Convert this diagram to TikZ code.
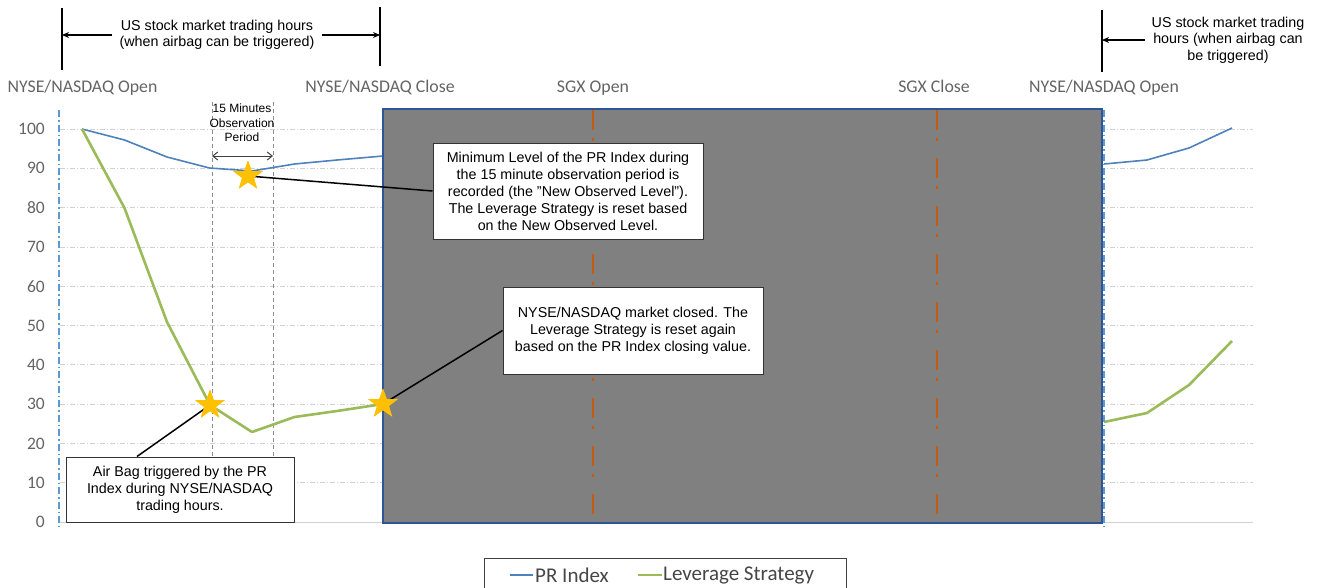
\documentclass[tikz,border=0pt]{standalone}
\usepackage{fontspec}
\setmainfont{Liberation Sans}
\newfontfamily\calibfont{Carlito}
\usetikzlibrary{shapes.geometric,arrows.meta}
\definecolor{prblue}{RGB}{79,129,189}
\definecolor{levgreen}{RGB}{155,187,89}
\definecolor{vblue}{RGB}{91,155,213}
\definecolor{boxgray}{RGB}{128,128,128}
\definecolor{boxedge}{RGB}{47,85,151}
\definecolor{sgxorange}{RGB}{197,90,17}
\definecolor{gridgray}{RGB}{210,210,210}
\definecolor{labgray}{RGB}{100,100,100}
\definecolor{staryellow}{RGB}{255,192,0}
\tikzset{
  gridln/.style={gridgray, line width=0.8pt, dash pattern=on 5pt off 2pt on 1pt off 2pt},
  obsln/.style={black!45, line width=0.8pt, dash pattern=on 4pt off 3pt},
  prline/.style={prblue, line width=1.6pt, line join=round},
  levline/.style={levgreen, line width=2.6pt, line join=round},
  vbl/.style={vblue, line width=1.3pt, dash pattern=on 7pt off 3pt on 1.5pt off 3pt},
  sgx/.style={sgxorange, line width=1.8pt, dash pattern=on 20pt off 8pt on 3pt off 17pt},
  callout/.style={draw=black!80, fill=white, line width=1pt, align=center, inner sep=0pt,
    font=\fontsize{14.3}{17}\selectfont},
  pointer/.style={black, line width=1.5pt},
  starmark/.style={star, star points=5, star point ratio=2.5, fill=staryellow, draw=none,
    minimum size=31pt, inner sep=0pt},
  toplab/.style={labgray, anchor=base, inner sep=0pt, font=\calibfont\fontsize{17.8}{20}\selectfont},
  ticklab/.style={labgray, anchor=east, inner sep=0pt, font=\calibfont\fontsize{17.5}{19}\selectfont},
  toptext/.style={align=center, inner sep=7pt, font=\fontsize{14.3}{16.5}\selectfont},
  markln/.style={black, line width=1.6pt},
  harrow/.style={-{Stealth[length=7pt,width=6pt]}, black, line width=1.3pt},
  obsarrow/.style={{Straight Barb[length=5pt,width=8pt]}-{Straight Barb[length=5pt,width=8pt]}, black!75, line width=1pt},
  legtext/.style={labgray!70!black, anchor=west, inner sep=0pt, font=\calibfont\fontsize{21}{23}\selectfont},
}
\begin{document}
\begin{tikzpicture}[x=1pt,y=-1pt]
\useasboundingbox (0,0) rectangle (1320,587);

% gridlines
\foreach \v in {10,20,...,100}{
  \draw[gridln] (60,{522-3.93*\v}) -- (1253,{522-3.93*\v});
}
\draw[gridgray, line width=1pt] (60,522) -- (1253,522);
% tick labels
\foreach \v in {0,10,...,100}{
  \node[ticklab] (tick\v) at (45,{522-3.93*\v}) {\v};
}

% observation period lines
\coordinate (oat) at (212,102); \coordinate (oab) at (212,522);
\coordinate (obt) at (273,102); \coordinate (obb) at (273,522);
\draw[obsln] (oat) -- (oab);
\draw[obsln] (obt) -- (obb);
\node[align=center, inner sep=0pt, font=\fontsize{12}{14.5}\selectfont] (obs) at (242,123)
  {15 Minutes\\Observation\\Period};
\coordinate (oal) at (212,156); \coordinate (obl) at (273,156);
\draw[obsarrow] (oal) -- (obl);

% series left part
\coordinate (p0) at (82,129);   \coordinate (p1) at (124.5,140);
\coordinate (p2) at (167,157);  \coordinate (p3) at (209.5,168);
\coordinate (p4) at (252,171);  \coordinate (p5) at (294.5,164);
\coordinate (p6) at (337,160);  \coordinate (p7) at (383,156);
\draw[prline] (p0) -- (p1) -- (p2) -- (p3) -- (p4) -- (p5) -- (p6) -- (p7);
\coordinate (g0) at (82,129);   \coordinate (g1) at (124.5,208);
\coordinate (g2) at (167,322);  \coordinate (g3) at (210,405);
\coordinate (g4) at (252,432);  \coordinate (g5) at (294.5,417);
\coordinate (g6) at (337,411);  \coordinate (g7) at (383,404);
\draw[levline] (g0) -- (g1) -- (g2) -- (g3) -- (g4) -- (g5) -- (g6) -- (g7);
% series right part
\coordinate (q0) at (1104,164); \coordinate (q1) at (1147,160);
\coordinate (q2) at (1189,148); \coordinate (q3) at (1232,128);
\draw[prline] (q0) -- (q1) -- (q2) -- (q3);
\coordinate (h0) at (1104,422); \coordinate (h1) at (1147,413);
\coordinate (h2) at (1189,385); \coordinate (h3) at (1232,341);
\draw[levline] (h0) -- (h1) -- (h2) -- (h3);

% gray closed-market box
\node[draw=boxedge, fill=boxgray, line width=2pt, minimum width=719pt, minimum height=414pt,
  inner sep=0pt] (gbox) at (742.5,316) {};
% SGX lines
\coordinate (sot) at (593,110); \coordinate (sob) at (593,521);
\coordinate (sct) at (937,110); \coordinate (scb) at (937,521);
\draw[sgx] (sot) -- (sob);
\draw[sgx] (sct) -- (scb);
% blue open lines
\coordinate (lot) at (59,110);  \coordinate (lob) at (59,527);
\coordinate (rot) at (1104,110); \coordinate (rob) at (1104,527);
\draw[vbl] (lot) -- (lob);
\draw[vbl] (rot) -- (rob);

% labels above the chart
\node[toplab] (l1) at (82.5,92) {NYSE/NASDAQ Open};
\node[toplab] (l2) at (380,92) {NYSE/NASDAQ Close};
\node[toplab] (l3) at (593,92) {SGX Open};
\node[toplab] (l4) at (934,92) {SGX Close};
\node[toplab] (l5) at (1104,92) {NYSE/NASDAQ Open};

% top trading-hour markers
\coordinate (m1t) at (62,8);    \coordinate (m1b) at (62,70);
\coordinate (m2t) at (380,7);   \coordinate (m2b) at (380,66);
\coordinate (m3t) at (1102,10); \coordinate (m3b) at (1102,72);
\draw[markln] (m1t) -- (m1b);
\draw[markln] (m2t) -- (m2b);
\draw[markln] (m3t) -- (m3b);
\node[toptext] (t1) at (217,35) {US stock market trading hours\\(when airbag can be triggered)};
\draw[harrow] (t1.west) -- (t1.west -| m1t);
\draw[harrow] (t1.east) -- (t1.east -| m2t);
\node[toptext] (t2) at (1228,40) {US stock market trading\\hours (when airbag can\\be triggered)};
\draw[harrow] (t2.west) -- (t2.west -| m3t);

% callouts
\node[callout, minimum width=270pt, minimum height=96pt] (b1) at (568,191)
  {Minimum Level of the PR Index during\\the 15 minute observation period is\\recorded (the "New Observed Level").\\The Leverage Strategy is reset based\\on the New Observed Level.};
\node[callout, minimum width=260pt, minimum height=87pt] (b2) at (633,330.5)
  {NYSE/NASDAQ market closed. The\\Leverage Strategy is reset again\\based on the PR Index closing value.};
\node[callout, minimum width=228pt, minimum height=65pt] (b3) at (180,489.5)
  {Air Bag triggered by the PR\\Index during NYSE/NASDAQ\\trading hours.};

% stars and pointers
\node[starmark] (s1) at (248,176) {};
\node[starmark] (s2) at (210,405) {};
\node[starmark] (s3) at (383,404) {};
\draw[pointer] (s1.center) -- (b1.west);
\draw[pointer] (s3.center) -- (b2.west);
\draw[pointer] (s2.center) -- ([xshift=-43pt]b3.north);
\node[starmark] at (s1) {};
\node[starmark] at (s2) {};
\node[starmark] at (s3) {};

% legend
\node[draw=black!75, line width=1pt, fill=white, minimum width=362pt, minimum height=36pt,
  inner sep=0pt] (leg) at (665,576) {};
\node[legtext] (lt1) at (535,575) {PR Index};
\node[legtext] (lt2) at (663,575) {Leverage Strategy};
\coordinate (la1) at (510,575); \coordinate (la2) at (533,575);
\coordinate (lb1) at (638,575); \coordinate (lb2) at (662,575);
\draw[prblue, line width=1.6pt] (la1) -- (la2);
\draw[levgreen, line width=2.6pt] (lb1) -- (lb2);
\end{tikzpicture}
\end{document}
